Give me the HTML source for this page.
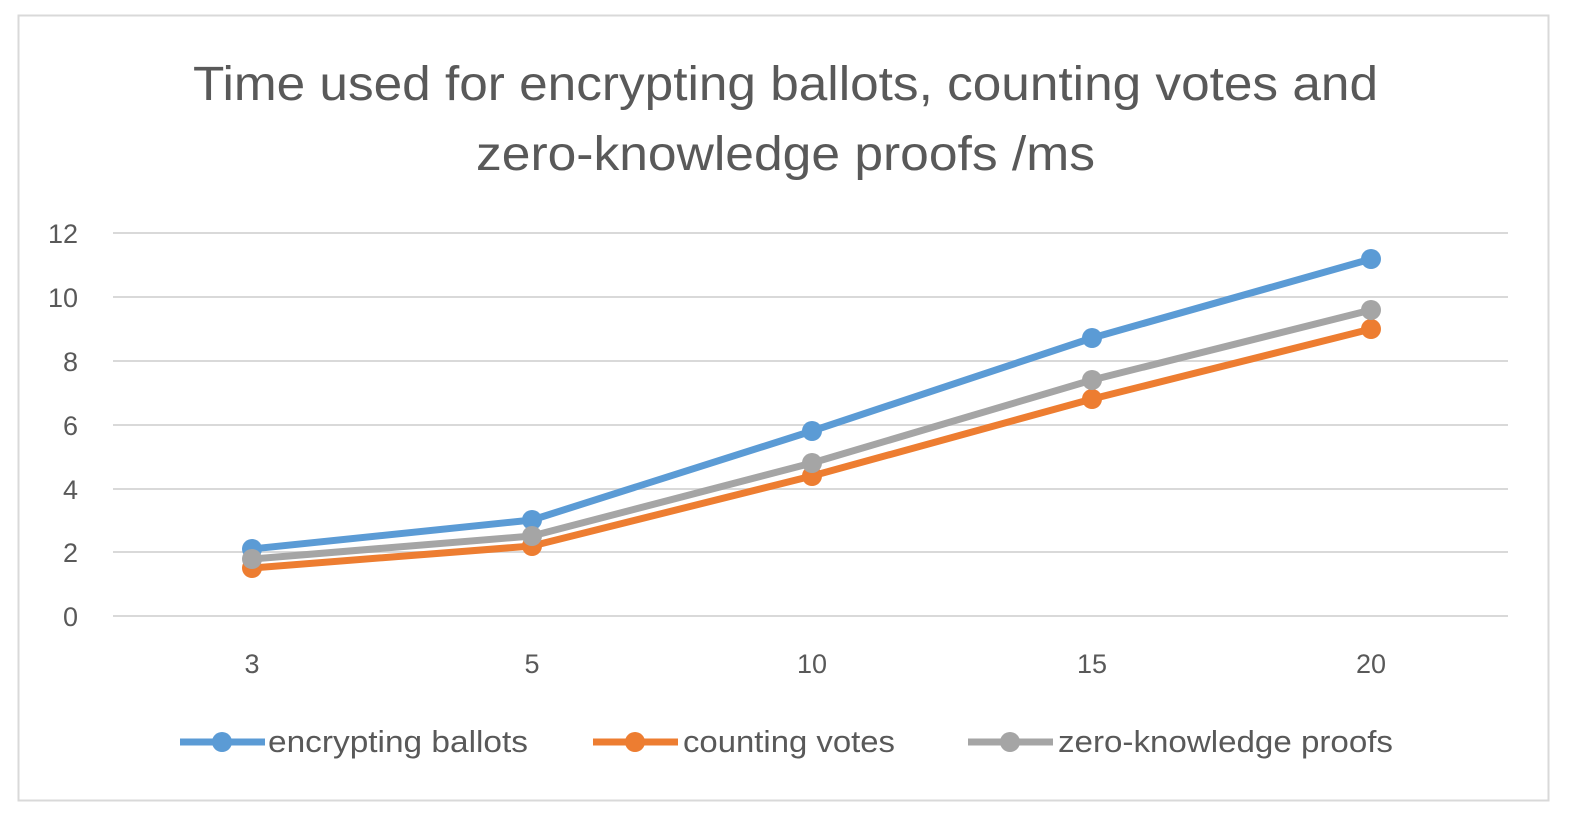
<!DOCTYPE html>
<html><head><meta charset="utf-8"><style>
html,body{margin:0;padding:0;background:#fff;}
svg{display:block;font-family:"Liberation Sans",sans-serif;}
</style></head><body>
<svg width="1594" height="835" viewBox="0 0 1594 835">
<rect x="0" y="0" width="1594" height="835" fill="#fff"/>
<rect x="18.5" y="15.5" width="1530" height="785" fill="#fff" stroke="#d9d9d9" stroke-width="2"/>
<g fill="#595959" font-size="48">
<text x="193" y="100" textLength="1185" lengthAdjust="spacingAndGlyphs">Time used for encrypting ballots, counting votes and</text>
<text x="476" y="170" textLength="619" lengthAdjust="spacingAndGlyphs">zero-knowledge proofs /ms</text>
</g>
<g stroke="#d9d9d9" stroke-width="2">
<line x1="113" x2="1508" y1="233" y2="233"/>
<line x1="113" x2="1508" y1="297" y2="297"/>
<line x1="113" x2="1508" y1="361" y2="361"/>
<line x1="113" x2="1508" y1="425" y2="425"/>
<line x1="113" x2="1508" y1="489" y2="489"/>
<line x1="113" x2="1508" y1="552" y2="552"/>
<line x1="113" x2="1508" y1="616" y2="616"/>
</g>
<g fill="#595959" font-size="27" text-anchor="end">
<text x="78" y="243">12</text><text x="78" y="307">10</text><text x="78" y="371">8</text>
<text x="78" y="435">6</text><text x="78" y="499">4</text><text x="78" y="562">2</text><text x="78" y="626">0</text>
</g>
<g fill="#595959" font-size="27" text-anchor="middle">
<text x="252" y="673">3</text><text x="532" y="673">5</text><text x="812" y="673">10</text>
<text x="1092" y="673">15</text><text x="1371" y="673">20</text>
</g>
<g stroke-width="7" fill="none" stroke-linejoin="round">
<polyline stroke="#5b9bd5" points="252,549 532,520 812,431 1092,338 1371,259"/>
<polyline stroke="#ed7d31" points="252,568 532,546 812,476 1092,399 1371,329"/>
<polyline stroke="#a5a5a5" points="252,559 532,536 812,463 1092,380 1371,310"/>
</g>
<g fill="#5b9bd5"><circle cx="252" cy="549" r="10"/><circle cx="532" cy="520" r="10"/><circle cx="812" cy="431" r="10"/><circle cx="1092" cy="338" r="10"/><circle cx="1371" cy="259" r="10"/></g>
<g fill="#ed7d31"><circle cx="252" cy="568" r="10"/><circle cx="532" cy="546" r="10"/><circle cx="812" cy="476" r="10"/><circle cx="1092" cy="399" r="10"/><circle cx="1371" cy="329" r="10"/></g>
<g fill="#a5a5a5"><circle cx="252" cy="559" r="10"/><circle cx="532" cy="536" r="10"/><circle cx="812" cy="463" r="10"/><circle cx="1092" cy="380" r="10"/><circle cx="1371" cy="310" r="10"/></g>
<g stroke-width="7">
<line x1="180" x2="265" y1="742" y2="742" stroke="#5b9bd5"/>
<line x1="593" x2="678" y1="742" y2="742" stroke="#ed7d31"/>
<line x1="968" x2="1053" y1="742" y2="742" stroke="#a5a5a5"/>
</g>
<circle cx="222" cy="742" r="10" fill="#5b9bd5"/>
<circle cx="635" cy="742" r="10" fill="#ed7d31"/>
<circle cx="1010" cy="742" r="10" fill="#a5a5a5"/>
<g fill="#595959" font-size="31">
<text x="268" y="752" textLength="260" lengthAdjust="spacingAndGlyphs">encrypting ballots</text>
<text x="683" y="752" textLength="212" lengthAdjust="spacingAndGlyphs">counting votes</text>
<text x="1058" y="752" textLength="335" lengthAdjust="spacingAndGlyphs">zero-knowledge proofs</text>
</g>
</svg>
</body></html>
